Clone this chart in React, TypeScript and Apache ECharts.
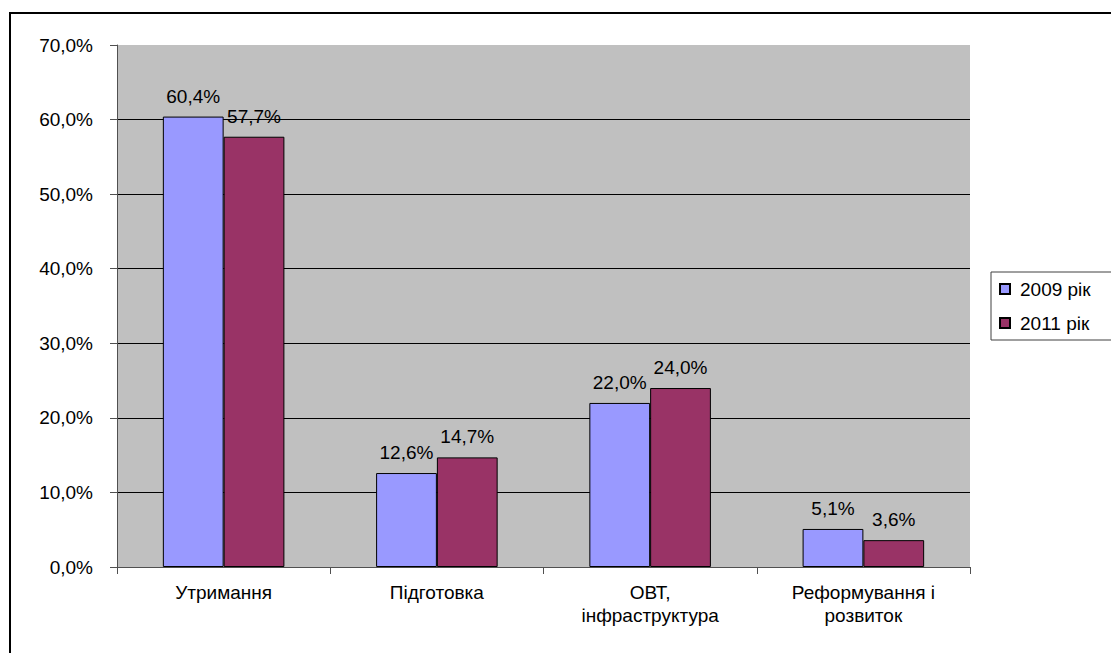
import React, { useEffect, useRef } from "react";
import * as echarts from "echarts";

const categories = ["Утримання", "Підготовка", "ОВТ,\nінфраструктура", "Реформування і\nрозвиток"];
const series2009 = [60.4, 12.6, 22.0, 5.1];
const series2011 = [57.7, 14.7, 24.0, 3.6];
const seriesNames = ["2009 рік", "2011 рік"];

const FONT = "'Liberation Sans', Arial, sans-serif";
const FS = 19;
const fmt = (v: number) => v.toFixed(1).replace(".", ",") + "%";

export default function App() {
  const ref = useRef<HTMLDivElement>(null);
  useEffect(() => {
    if (!ref.current) return;
    const chart = echarts.init(ref.current, undefined, { renderer: "svg" });
    const label = {
      show: true,
      position: "top" as const,
      distance: 11,
      color: "#000",
      fontFamily: FONT,
      fontSize: FS,
      formatter: (p: any) => fmt(p.value),
    };
    chart.setOption({
      animation: false,
      backgroundColor: "#fff",
      textStyle: { fontFamily: FONT },
      graphic: [
        {
          type: "rect",
          shape: { x: 10, y: 13, width: 1200, height: 700 },
          style: { fill: "none", stroke: "#000", lineWidth: 2 },
          silent: true,
        },
      ],
      grid: {
        left: 117,
        top: 45,
        width: 853,
        height: 522,
        show: true,
        backgroundColor: "#C0C0C0",
        borderWidth: 0,
      },
      legend: {
        orient: "vertical",
        left: 991,
        top: 272,
        padding: [7, 40, 7, 8],
        itemGap: 14,
        itemWidth: 10,
        itemHeight: 10,
        icon: "rect",
        borderColor: "#404040",
        borderWidth: 1,
        data: seriesNames,
        textStyle: { fontFamily: FONT, fontSize: FS, color: "#000", lineHeight: 20, padding: [0, 0, 0, 5] },
      },
      xAxis: {
        type: "category",
        data: categories,
        axisLine: { show: true, lineStyle: { color: "#505050", width: 1 } },
        axisTick: { show: true, length: 7, lineStyle: { color: "#505050" } },
        axisLabel: {
          color: "#000",
          fontFamily: FONT,
          fontSize: FS,
          lineHeight: 23,
          margin: 14,
          interval: 0,
        },
      },
      yAxis: {
        type: "value",
        min: 0,
        max: 70,
        interval: 10,
        axisLine: { show: true, lineStyle: { color: "#505050", width: 1 } },
        axisTick: { show: true, length: 7, lineStyle: { color: "#505050" } },
        axisLabel: {
          color: "#000",
          fontFamily: FONT,
          fontSize: FS,
          margin: 24,
          formatter: (v: number) => fmt(v),
        },
        splitLine: { show: true, showMaxLine: false, lineStyle: { color: "#000", width: 1 } },
      },
      series: [
        {
          name: seriesNames[0],
          type: "bar",
          data: series2009,
          barGap: "0%",
          barCategoryGap: "43%",
          itemStyle: { color: "#9999FF", borderColor: "#000", borderWidth: 1 },
          label,
        },
        {
          name: seriesNames[1],
          type: "bar",
          data: series2011,
          barGap: "0%",
          barCategoryGap: "43%",
          itemStyle: { color: "#993366", borderColor: "#000", borderWidth: 1 },
          label,
        },
      ],
    });
    return () => chart.dispose();
  }, []);
  return (
    <div
      ref={ref}
      style={{ position: "fixed", left: 0, top: 0, width: 1111, height: 653 }}
    />
  );
}
